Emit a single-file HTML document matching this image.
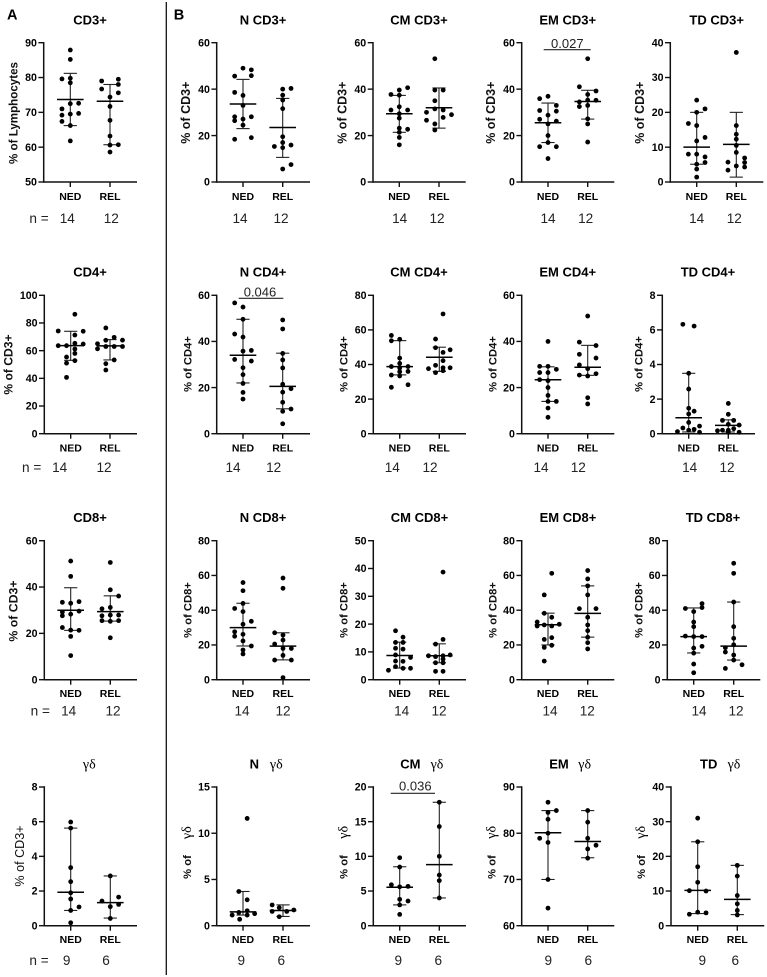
<!DOCTYPE html>
<html lang="en">
<head>
<meta charset="utf-8">
<title>T cell subsets: NED vs REL</title>
<style>
html,body{margin:0;padding:0;background:#fff;}
#figure{display:block;width:767px;height:977px;font-family:"Liberation Sans",sans-serif;}
</style>
</head>
<body>
<svg id="figure" xmlns="http://www.w3.org/2000/svg" width="767" height="977" viewBox="0 0 767 977">
<rect x="0" y="0" width="767" height="977" fill="#fff"/>
<line x1="166.3" y1="2" x2="166.3" y2="975" stroke="#111" stroke-width="1.3"/>
<text x="12.3" y="19.3" font-size="14.5" font-weight="bold" text-anchor="middle" fill="#000">A</text>
<text x="179" y="19.3" font-size="14.5" font-weight="bold" text-anchor="middle" fill="#000">B</text>
</svg>
<script>
const groups = ['NED', 'REL'];

// CD3+
const cd3Ticks = [50, 60, 70, 80, 90];
const cd3Ned = [87.9, 85.2, 79.6, 79.8, 78.5, 71, 72.6, 72.5, 69.2, 69.5, 69.7, 67.4, 66.2, 61.8];
const cd3NedSlots = [0, 0, -1, 0, 0, -1, 1, 0, -1, 0, 1, -1, 0, 0];
const cd3NedSummary = [66.2, 73.7, 81.2];
const cd3Rel = [79, 79.5, 78, 76.7, 75.6, 74.4, 71.7, 67.7, 63.2, 60.6, 60.7, 58.6];
const cd3RelSlots = [-1, 1, 1, -1, 1, 0, 0, 0, 0, 0, 1, 0];
const cd3RelSummary = [60.7, 73.2, 78];

// N CD3+
const nCd3Ticks = [0, 20, 40, 60];
const nCd3Ned = [49, 48.3, 45.6, 45.8, 38.6, 37.3, 33, 28.1, 28.1, 26.4, 27.1, 24.5, 18.4, 19.1];
const nCd3NedSlots = [0, 1, -1, 1, -1, 0, 0, -1, 1, -1, 0, 0, -1, 1];
const nCd3NedSummary = [23, 33.6, 44.2];
const nCd3Rel = [40, 40.3, 37.4, 35.3, 31.6, 19.5, 17, 15.3, 14.8, 15.9, 7.5, 5.6];
const nCd3RelSlots = [0, 1, 0, 0, 0, 0, 0, -1, 0, 1, 1, 0];
const nCd3RelSummary = [10.6, 23.5, 36];

// CM CD3+
const cmCd3Ticks = [0, 20, 40, 60];
const cmCd3Ned = [40.6, 39.6, 37.7, 37.4, 32.4, 31, 31, 29.4, 27.5, 23.2, 22.7, 21.4, 19.2, 16];
const cmCd3NedSlots = [1, 0, -1, 0, 0, -1, 1, 0, 0, 0, 1, 0, 0, 0];
const cmCd3NedSummary = [21.4, 29.4, 37.3];
const cmCd3Rel = [53.1, 39.6, 39.6, 35, 30, 31.5, 31, 29, 26.6, 27.8, 25, 22.4];
const cmCd3RelSlots = [-0.5, -0.5, 0.5, -0.5, -1.5, -0.5, 0.5, 1.5, -1.5, 0.5, -0.5, -0.5];
const cmCd3RelSummary = [23.2, 32, 40.5];

// EM CD3+
const emCd3Ticks = [0, 20, 40, 60];
const emCd3Ned = [36.9, 35.9, 33, 30.8, 30.5, 28.8, 27, 26.2, 25, 20, 17, 15.2, 15.2, 10.1];
const emCd3NedSlots = [0, -1, 1, -1, 1, 0, -1, 1, 0, 0, 0, -1, 1, 0];
const emCd3NedSummary = [17, 25.5, 34];
const emCd3Rel = [53.1, 41, 39.2, 37.7, 35.3, 35.2, 32.5, 33, 27.2, 25, 17.2, 34.5];
const emCd3RelSlots = [0, -1, 1, 0, 0, 1, -1, 0, 0, 0, 0, -1];
const emCd3RelSummary = [27.1, 34.7, 39.5];

// TD CD3+
const tdCd3Ticks = [0, 10, 20, 30, 40];
const tdCd3Ned = [23.5, 21, 20, 16.8, 16.2, 12.8, 11.8, 8, 8, 7.2, 5.6, 5.1, 3.7, 1.4];
const tdCd3NedSlots = [0, 1, 0, -1, 0, 1, 0, -1, 0, 1, 1, 0, 0, 0];
const tdCd3NedSummary = [5.1, 10, 20];
const tdCd3Rel = [37.2, 16.2, 13.7, 12.3, 10.5, 8.5, 6.9, 5.7, 5.6, 4.6, 4.3, 3.4];
const tdCd3RelSlots = [0, 0, 0, 0, 0, 0, 1, -1, 1, 0, 1, -1];
const tdCd3RelSummary = [1.4, 10.8, 20];

// CD4+
const cd4Ticks = [0, 20, 40, 60, 80, 100];
const cd4Ned = [86.3, 74.2, 74, 71.3, 63.6, 65.3, 64.8, 63.6, 61.2, 58, 55.4, 52.8, 51, 40.7];
const cd4NedSlots = [0.5, -1.5, 1.5, 0.5, -1.5, 0.5, 1.5, -0.5, 0.5, 0.5, -0.5, 0.5, -0.5, -0.5];
const cd4NedSummary = [53, 63.6, 74];
const cd4Rel = [76.4, 69.6, 67.5, 67.6, 65, 63, 63, 63, 61.3, 53.3, 50.6, 46];
const cd4RelSlots = [-0.5, 0.5, -0.5, 1.5, -1.5, 0.5, -0.5, 1.5, -1.5, 0.5, -0.5, -0.5];
const cd4RelSummary = [53.3, 63.5, 68];

// N CD4+
const nCd4Ticks = [0, 20, 40, 60];
const nCd4Ned = [56.7, 54.9, 49.6, 43.2, 41.9, 35.8, 36.1, 32.2, 31.5, 28.6, 25.6, 21.8, 17.9, 15];
const nCd4NedSlots = [-1, 0, 0, -1, 0, 0, 1, -1, 1, 0, 0, 0, 0, 0];
const nCd4NedSummary = [22, 34, 49.6];
const nCd4Rel = [49.3, 45.4, 34.8, 32, 28.5, 21.4, 19.5, 18, 13.6, 10.7, 9.7, 4.3];
const nCd4RelSlots = [0, 0, 0, 0, 0, 0, 1, 0, 0, 1, 0, 0];
const nCd4RelSummary = [10.8, 20.5, 34.9];

// CM CD4+
const cmCd4Ticks = [0, 20, 40, 60, 80];
const cmCd4Ned = [56.8, 54.6, 53.7, 43.7, 40.6, 38.8, 38.8, 38, 35.8, 33.9, 36, 33.4, 26.8, 28.3];
const cmCd4NedSlots = [-1, 0, -1, 0, 0, -1, 1, 0, 0, -1, 1, 0, -1, 1];
const cmCd4NedSummary = [34, 38.8, 53.8];
const cmCd4Rel = [69.2, 54.7, 49.7, 47, 48.5, 42.2, 37.6, 39.5, 38.1, 38.1, 35.3, 36.4];
const cmCd4RelSlots = [0.45, -0.45, -0.45, 0.45, 1.3, 0.45, -1.3, -0.45, 1.3, 0.45, -0.45, 0.45];
const cmCd4RelSummary = [36, 44.2, 50];

// EM CD4+
const emCd4Ticks = [0, 20, 40, 60];
const emCd4Ned = [40, 29.2, 29.2, 26.5, 27.9, 23.4, 23, 20, 16.6, 14, 14, 11.1, 7.1, 26.5];
const emCd4NedSlots = [0, -1, 0, -1, 1, -1, 0, 0, 0, 0, 1, 0, 0, 0];
const emCd4NedSummary = [14, 23.4, 29];
const emCd4Rel = [51, 39.7, 38.2, 34.4, 32.8, 29.8, 28.2, 25.4, 25, 26, 15.6, 12.9];
const emCd4RelSlots = [0, -1, 1, -1, 1, -1, 0, -1, 0, 1, 0, 0];
const emCd4RelSummary = [25.3, 28.8, 38.3];

// TD CD4+
const tdCd4Ticks = [0, 2, 4, 6, 8];
const tdCd4Ned = [6.32, 6.22, 3.49, 2.58, 1.47, 1.3, 1.14, 0.65, 0.44, 0.33, 0.25, 0.12, 0.2, 0.08];
const tdCd4NedSlots = [-0.7, 0.65, 0, 0, 0, 0.65, 0, 0, 1.3, -0.7, 0.65, -1.35, 0, 1.3];
const tdCd4NedSummary = [0.1, 0.92, 3.49];
const tdCd4Rel = [1.75, 1.12, 0.77, 0.77, 0.54, 0.5, 0.17, 0.2, 0.2, 0.29, 0.08, 0.08];
const tdCd4RelSlots = [0, 0, -0.7, 0.65, 0, 1.3, -1.3, -0.7, 0, 0.65, 1.3, 0];
const tdCd4RelSummary = [0.1, 0.48, 0.8];

// CD8+
const cd8Ticks = [0, 20, 40, 60];
const cd8Ned = [51.2, 44.6, 33.4, 33.7, 33, 29.2, 29.6, 28.3, 27.6, 22.5, 21.4, 21.3, 18.7, 10.4];
const cd8NedSlots = [0, 0, -1, 1, 0, -1, 1, 0, -1, -1, 0, 1, 0, 0];
const cd8NedSummary = [21.3, 30, 39.7];
const cd8Rel = [50.6, 38.8, 36.1, 31.2, 30.6, 27.9, 27.9, 27.6, 25.5, 25.2, 25.5, 18.1];
const cd8RelSlots = [0, 0, 1, 0, -1, 0, 1, -1, -1, 0, 1, 0];
const cd8RelSummary = [25.3, 29.4, 36.2];

// N CD8+
const nCd8Ticks = [0, 20, 40, 60, 80];
const nCd8Ned = [55.9, 51.2, 43.9, 41, 39.2, 33.6, 31.9, 27.6, 26.1, 25, 22.3, 19.4, 17.1, 14.8];
const nCd8NedSlots = [0, 0, 0, -1, 0, 1, 0, -1, 0, -1, 0, 1, 0, 0];
const nCd8NedSummary = [19.4, 30, 44];
const nCd8Rel = [58.5, 52.6, 27, 25.7, 20.5, 22.8, 18, 18, 14, 11.3, 11.3, 1.2];
const nCd8RelSlots = [0, 0, -1, 0, -1, 0, 0, 1, 0, -1, 1, 0];
const nCd8RelSummary = [11.4, 19.3, 27];

// CM CD8+
const cmCd8Ticks = [0, 10, 20, 30, 40, 50];
const cmCd8Ned = [17.6, 15.3, 13.4, 13.4, 11.3, 11, 8.9, 8, 6.7, 6.6, 4.7, 4.1, 4.1, 3.4];
const cmCd8NedSlots = [-0.5, 0.4, -0.5, 0.4, -0.5, 0.4, -0.5, 1.3, -0.5, 0.4, -0.5, 0.4, 1.3, -1.35];
const cmCd8NedSummary = [4.2, 8.7, 13.5];
const cmCd8Rel = [38.7, 14.5, 12.8, 8.6, 8.6, 8.9, 8.3, 7.4, 6.1, 6.1, 3, 3];
const cmCd8RelSlots = [0.45, 0.45, -0.45, -1.3, 0.45, 1.3, -0.45, 0.45, -0.45, 0.45, -0.45, 0.45];
const cmCd8RelSummary = [6.1, 8.6, 12.9];

// EM CD8+
const emCd8Ticks = [0, 20, 40, 60, 80];
const emCd8Ned = [61.2, 48.8, 38.2, 35.9, 33.2, 31.5, 30.9, 30.9, 31.9, 24.2, 23.2, 19.8, 18.6, 10.7];
const emCd8NedSlots = [0.45, -0.45, -0.45, 0.45, -1.3, -0.45, -1.3, 0.45, 1.35, 0.45, -0.45, 0.45, -0.45, -0.45];
const emCd8NedSummary = [20, 31.6, 38.3];
const emCd8Rel = [62.8, 58, 54, 48.8, 40.9, 40.9, 35.9, 31.5, 28.2, 24.4, 21.3, 17.7];
const emCd8RelSlots = [0, 0, 0, 0, -1, 1, 0, 0, 0, 0, 0, 0];
const emCd8RelSummary = [24.5, 38.2, 54];

// TD CD8+
const tdCd8Ticks = [0, 20, 40, 60, 80];
const tdCd8Ned = [43.8, 41.5, 41, 39.2, 33.2, 30.5, 25.1, 24.8, 24.8, 19.2, 18.2, 15.3, 9, 4];
const tdCd8NedSlots = [1, 1, -1, 0, 0, 0, -1, 0, 1, 1, 0, 0, 0, 0];
const tdCd8NedSummary = [15.4, 24.8, 41.3];
const tdCd8Rel = [67, 61.2, 44.7, 30.5, 23.8, 20.1, 18.4, 15.9, 14.2, 11.3, 8.6, 6.5];
const tdCd8RelSlots = [0, 0, 0, 0, 0, 0, -1, -1, 0, 0, 1, -1];
const tdCd8RelSummary = [11.3, 19.3, 44.7];

// gamma-delta
const gdTicks = [0, 2, 4, 6, 8];
const gdNed = [5.98, 5.63, 3.35, 2.54, 1.9, 1.54, 1.08, 0.88, 0.17];
const gdNedSlots = [0, 0, 0, 0, 0, 0, 1, 0, 0];
const gdNedSummary = [0.88, 1.93, 5.63];
const gdRel = [2.87, 1.65, 1.42, 1.23, 1.1, 0.42];
const gdRelSlots = [0, 1, -1, 1, 0, 0];
const gdRelSummary = [0.44, 1.33, 2.87];

// N gamma-delta
const nGdTicks = [0, 5, 10, 15];
const nGdNed = [11.6, 3.7, 2.8, 1.62, 1.44, 1.3, 1.15, 1.15, 0.69];
const nGdNedSlots = [0.5, -0.5, 0.5, 0.5, -0.5, 1.4, -1.3, 0.5, -0.4];
const nGdNedSummary = [1.15, 1.5, 3.7];
const nGdRel = [2.24, 1.95, 1.55, 1.55, 1.7, 0.97];
const nGdRelSlots = [-1.3, -0.45, -1.3, 0.45, 1.3, -0.45];
const nGdRelSummary = [1, 1.65, 2.25];

// CM gamma-delta
const cmGdTicks = [0, 5, 10, 15, 20];
const cmGdNed = [9.8, 8.46, 5.9, 5.67, 5.6, 3.8, 3.56, 3, 1.63];
const cmGdNedSlots = [0, 0, -1, 1, 0, 0, 1, 0, 0];
const cmGdNedSummary = [3, 5.55, 8.5];
const cmGdRel = [17.8, 14.3, 10, 7.3, 6.5, 4];
const cmGdRelSlots = [0, 0, 0, 0, 0, 0];
const cmGdRelSummary = [4, 8.8, 17.8];

// EM gamma-delta
const emGdTicks = [60, 70, 80, 90];
const emGdNed = [86.7, 84.9, 84.5, 83, 80, 78.9, 78, 70, 63.8];
const emGdNedSlots = [0, 1, 0, 0, 0, -1, 0, 0, 0];
const emGdNedSummary = [70, 80.1, 84.9];
const emGdRel = [84.9, 82.4, 78.9, 77.4, 76.6, 74.6];
const emGdRelSlots = [0, 0, 0, 1, 0, 0];
const emGdRelSummary = [74.7, 78.2, 84.9];

// TD gamma-delta
const tdGdTicks = [0, 10, 20, 30, 40];
const tdGdNed = [31, 24.2, 17, 12.5, 10.1, 10, 3.7, 3.9, 3.3];
const tdGdNedSlots = [0, 0, 0, 0, -1, 1, 1, 0, -1];
const tdGdNedSummary = [3.5, 10.2, 24.2];
const tdGdRel = [17.4, 14.3, 8.7, 6.3, 4.4, 3.1];
const tdGdRelSlots = [0, 0, 0, 0, 0, 0];
const tdGdRelSummary = [3.2, 7.6, 17.4];

// Vertical layout of each row of panels
const rowLayout = [
  {top: 42.7, bottom: 182, cat: 196, n: 218.3, title: 20},
  {top: 295.3, bottom: 433.7, cat: 447.7, n: 467.3, title: 272},
  {top: 540.7, bottom: 679.7, cat: 693.3, n: 710.7, title: 517.3},
  {top: 787, bottom: 925.7, cat: 939.3, n: 960, title: 764}
];

const panels = [
  {id:'cd3', row:0, title:'CD3+', titleX:90, axis:43.7, cx:[70.3,110], end:137, nx:[67.3,111.3], nEq:39, yTitle:'% of Lymphocytes', yx:13.3, yy:113, ys:11.6, ticks:cd3Ticks, ned:cd3Ned, nedSlots:cd3NedSlots, nedSum:cd3NedSummary, rel:cd3Rel, relSlots:cd3RelSlots, relSum:cd3RelSummary},
  {id:'n-cd3', row:0, title:'N CD3+', titleX:263, axis:216.7, cx:[243,282.7], end:310, nx:[240,281], yTitle:'% of CD3+', yx:186, yy:112.7, ys:12.5, ticks:nCd3Ticks, ned:nCd3Ned, nedSlots:nCd3NedSlots, nedSum:nCd3NedSummary, rel:nCd3Rel, relSlots:nCd3RelSlots, relSum:nCd3RelSummary},
  {id:'cm-cd3', row:0, title:'CM CD3+', titleX:419, axis:373, cx:[399.3,439], end:465.7, nx:[399.7,437], yTitle:'% of CD3+', yx:342.3, yy:112.7, ys:12.5, ticks:cmCd3Ticks, ned:cmCd3Ned, nedSlots:cmCd3NedSlots, nedSum:cmCd3NedSummary, rel:cmCd3Rel, relSlots:cmCd3RelSlots, relSum:cmCd3RelSummary},
  {id:'em-cd3', row:0, title:'EM CD3+', titleX:567.7, axis:521.7, cx:[548,587.7], end:614.3, nx:[548,585.7], yTitle:'% of CD3+', yx:491, yy:112.7, ys:12.5, ticks:emCd3Ticks, ned:emCd3Ned, nedSlots:emCd3NedSlots, nedSum:emCd3NedSummary, rel:emCd3Rel, relSlots:emCd3RelSlots, relSum:emCd3RelSummary, sig:{text:'0.027', x1:543.7, x2:590.7, y:49.7, tx:567.3, ty:43.3}},
  {id:'td-cd3', row:0, title:'TD CD3+', titleX:716.7, axis:670.3, cx:[696.7,736.3], end:763.3, nx:[696.7,734.3], yTitle:'% of CD3+', yx:640, yy:112.7, ys:12.5, ticks:tdCd3Ticks, ned:tdCd3Ned, nedSlots:tdCd3NedSlots, nedSum:tdCd3NedSummary, rel:tdCd3Rel, relSlots:tdCd3RelSlots, relSum:tdCd3RelSummary},

  {id:'cd4', row:1, title:'CD4+', titleX:90, axis:44.3, cx:[70.7,110], end:137, nx:[59.7,104], nEq:31.7, yTitle:'% of CD3+', yx:8.3, yy:364.5, ys:12.1, ticks:cd4Ticks, ned:cd4Ned, nedSlots:cd4NedSlots, nedSum:cd4NedSummary, rel:cd4Rel, relSlots:cd4RelSlots, relSum:cd4RelSummary},
  {id:'n-cd4', row:1, title:'N CD4+', titleX:263, axis:216.7, cx:[243,282.7], end:310, nx:[233,273.7], yTitle:'% of CD4+', yx:187.7, yy:364, ys:11.2, ticks:nCd4Ticks, ned:nCd4Ned, nedSlots:nCd4NedSlots, nedSum:nCd4NedSummary, rel:nCd4Rel, relSlots:nCd4RelSlots, relSum:nCd4RelSummary, sig:{text:'0.046', x1:238.7, x2:283.3, y:298.3, tx:260, ty:292}},
  {id:'cm-cd4', row:1, title:'CM CD4+', titleX:419, axis:373.3, cx:[399.7,439.3], end:466, nx:[392.3,430], yTitle:'% of CD4+', yx:343.3, yy:364, ys:11.2, ticks:cmCd4Ticks, ned:cmCd4Ned, nedSlots:cmCd4NedSlots, nedSum:cmCd4NedSummary, rel:cmCd4Rel, relSlots:cmCd4RelSlots, relSum:cmCd4RelSummary},
  {id:'em-cd4', row:1, title:'EM CD4+', titleX:567.7, axis:521.7, cx:[548,587.7], end:614.3, nx:[541,578.3], yTitle:'% of CD4+', yx:492.3, yy:364, ys:11.2, ticks:emCd4Ticks, ned:emCd4Ned, nedSlots:emCd4NedSlots, nedSum:emCd4NedSummary, rel:emCd4Rel, relSlots:emCd4RelSlots, relSum:emCd4RelSummary},
  {id:'td-cd4', row:1, title:'TD CD4+', titleX:708, axis:662.3, cx:[688.7,728.3], end:755, nx:[689.7,727], yTitle:'% of CD4+', yx:638.3, yy:364, ys:11.2, ticks:tdCd4Ticks, ned:tdCd4Ned, nedSlots:tdCd4NedSlots, nedSum:tdCd4NedSummary, rel:tdCd4Rel, relSlots:tdCd4RelSlots, relSum:tdCd4RelSummary},

  {id:'cd8', row:2, title:'CD8+', titleX:90, axis:44.3, cx:[70.7,110.3], end:137, nx:[68.7,113], nEq:40.3, yTitle:'% of CD3+', yx:13.3, yy:611, ys:12.3, ticks:cd8Ticks, ned:cd8Ned, nedSlots:cd8NedSlots, nedSum:cd8NedSummary, rel:cd8Rel, relSlots:cd8RelSlots, relSum:cd8RelSummary},
  {id:'n-cd8', row:2, title:'N CD8+', titleX:263, axis:216.7, cx:[243,283], end:310, nx:[242,283], yTitle:'% of CD8+', yx:187.7, yy:610, ys:11.2, ticks:nCd8Ticks, ned:nCd8Ned, nedSlots:nCd8NedSlots, nedSum:nCd8NedSummary, rel:nCd8Rel, relSlots:nCd8RelSlots, relSum:nCd8RelSummary},
  {id:'cm-cd8', row:2, title:'CM CD8+', titleX:419.5, axis:373.3, cx:[399.7,439.3], end:466, nx:[401.7,439], yTitle:'% of CD8+', yx:343.3, yy:610, ys:11.2, ticks:cmCd8Ticks, ned:cmCd8Ned, nedSlots:cmCd8NedSlots, nedSum:cmCd8NedSummary, rel:cmCd8Rel, relSlots:cmCd8RelSlots, relSum:cmCd8RelSummary},
  {id:'em-cd8', row:2, title:'EM CD8+', titleX:568, axis:521.7, cx:[548,587.7], end:614.3, nx:[550,587.3], yTitle:'% of CD8+', yx:492.3, yy:610, ys:11.2, ticks:emCd8Ticks, ned:emCd8Ned, nedSlots:emCd8NedSlots, nedSum:emCd8NedSummary, rel:emCd8Rel, relSlots:emCd8RelSlots, relSum:emCd8RelSummary},
  {id:'td-cd8', row:2, title:'TD CD8+', titleX:713, axis:667.3, cx:[693.7,733.7], end:760.3, nx:[699,736], yTitle:'% of CD8+', yx:638.3, yy:610, ys:11.2, ticks:tdCd8Ticks, ned:tdCd8Ned, nedSlots:tdCd8NedSlots, nedSum:tdCd8NedSummary, rel:tdCd8Rel, relSlots:tdCd8RelSlots, relSum:tdCd8RelSummary},

  {id:'gd', row:3, title:'', titleX:0, gdX:89.3, axis:44.3, cx:[70.7,110.3], end:137, nx:[66.7,106], nEq:39, yTitle:'% of CD3+', yx:20, yy:856, ys:12.6, yRegular:true, ticks:gdTicks, ned:gdNed, nedSlots:gdNedSlots, nedSum:gdNedSummary, rel:gdRel, relSlots:gdRelSlots, relSum:gdRelSummary},
  {id:'n-gd', row:3, title:'N', titleX:254.3, gdX:276.3, axis:216.7, cx:[243,283], end:310, nx:[241.3,281.3], yTitle:'% of', yx:187, yy:867, ys:11.2, yGd:832.7, ticks:nGdTicks, ned:nGdNed, nedSlots:nGdNedSlots, nedSum:nGdNedSummary, rel:nGdRel, relSlots:nGdRelSlots, relSum:nGdRelSummary},
  {id:'cm-gd', row:3, title:'CM', titleX:410.3, gdX:437, axis:373.3, cx:[399.7,439.3], end:466, nx:[398.3,438.3], yTitle:'% of', yx:343.3, yy:867, ys:11.2, yGd:832.3, ticks:cmGdTicks, ned:cmGdNed, nedSlots:cmGdNedSlots, nedSum:cmGdNedSummary, rel:cmGdRel, relSlots:cmGdRelSlots, relSum:cmGdRelSummary, sig:{text:'0.036', x1:390.7, x2:435, y:793.3, tx:415.3, ty:786}},
  {id:'em-gd', row:3, title:'EM', titleX:559, gdX:584.7, axis:521.7, cx:[548,587.7], end:614.3, nx:[548.3,588.3], yTitle:'% of', yx:491.7, yy:867, ys:11.2, yGd:832.3, ticks:emGdTicks, ned:emGdNed, nedSlots:emGdNedSlots, nedSum:emGdNedSummary, rel:emGdRel, relSlots:emGdRelSlots, relSum:emGdRelSummary},
  {id:'td-gd', row:3, title:'TD', titleX:708.7, gdX:734, axis:671, cx:[697.7,737.3], end:764.3, nx:[702.3,735.3], yTitle:'% of', yx:641, yy:867, ys:11.2, yGd:832.3, ticks:tdGdTicks, ned:tdGdNed, nedSlots:tdGdNedSlots, nedSum:tdGdNedSummary, rel:tdGdRel, relSlots:tdGdRelSlots, relSum:tdGdRelSummary}
];

const SVG_NS = 'http://www.w3.org/2000/svg';
const SLOT_WIDTH = 8.33;
const MEDIAN_HALF = 13.3;
const CAP_HALF = 6.6;
const figure = document.getElementById('figure');

function make(parent, tag, attrs, text) {
  const el = document.createElementNS(SVG_NS, tag);
  for (const key in attrs) el.setAttribute(key, attrs[key]);
  if (text !== undefined) el.textContent = text;
  parent.appendChild(el);
  return el;
}

function yAxisScale(panel) {
  const layout = rowLayout[panel.row];
  const min = panel.ticks[0];
  const max = panel.ticks[panel.ticks.length - 1];
  return function (value) {
    return layout.bottom - (value - min) / (max - min) * (layout.bottom - layout.top);
  };
}

function xAxisScale(panel, groupIndex, slot) {
  return panel.cx[groupIndex] + (slot || 0) * SLOT_WIDTH;
}

function drawSummary(g, panel, groupIndex, summary, y) {
  const cx = xAxisScale(panel, groupIndex, 0);
  const stem = make(g, 'line', {x1: cx, x2: cx, y1: y(summary[0]), y2: y(summary[2]), stroke: '#222', 'stroke-width': 1.1});
  
  
  const lowCap = make(g, 'line', {x1: cx - CAP_HALF, x2: cx + CAP_HALF, y1: y(summary[0]), y2: y(summary[0]), stroke: '#222', 'stroke-width': 1.1});
  
  
  const highCap = make(g, 'line', {x1: cx - CAP_HALF, x2: cx + CAP_HALF, y1: y(summary[2]), y2: y(summary[2]), stroke: '#222', 'stroke-width': 1.1});
  
  
  const median = make(g, 'line', {x1: cx - MEDIAN_HALF, x2: cx + MEDIAN_HALF, y1: y(summary[1]), y2: y(summary[1]), stroke: '#000', 'stroke-width': 1.5});
  
  
}

function drawPoints(g, panel, groupIndex, values, slots, y) {
  values.forEach(function (value, i) {
    const dot = make(g, 'circle', {cx: xAxisScale(panel, groupIndex, slots[i]), cy: y(value), r: 2.4, fill: '#000'});
    
    
  });
}

panels.forEach(function (panel) {
  const layout = rowLayout[panel.row];
  const y = yAxisScale(panel);
  const g = make(figure, 'g', {});
  
  

  if (panel.title) {
    const title = make(g, 'text', {x: panel.titleX, y: layout.title + 4.6, 'font-size': 13, 'font-weight': 'bold', 'text-anchor': 'middle', fill: '#000'}, panel.title);
    
    
  }
  if (panel.gdX) {
    const gdTitle = make(g, 'text', {x: panel.gdX, y: layout.title + 4.6, 'font-size': 14, 'text-anchor': 'middle', fill: '#000', 'font-family': '"Liberation Serif", serif'}, 'γδ');
    
    
  }

  const yAxis = make(g, 'line', {x1: panel.axis, x2: panel.axis, y1: layout.top - 0.7, y2: layout.bottom + 0.7, stroke: '#111', 'stroke-width': 1.5});
  
  
  const xAxis = make(g, 'line', {x1: panel.axis, x2: panel.end, y1: layout.bottom, y2: layout.bottom, stroke: '#111', 'stroke-width': 1.5});
  
  

  panel.ticks.forEach(function (tickValue) {
    const tick = make(g, 'line', {x1: panel.axis - 5.3, x2: panel.axis, y1: y(tickValue), y2: y(tickValue), stroke: '#111', 'stroke-width': 1.4});
    
    
    const label = make(g, 'text', {x: panel.axis - 6.8, y: y(tickValue) + 3.7, 'font-size': 10.6, 'font-weight': 'bold', 'text-anchor': 'end', fill: '#000'}, String(tickValue));
    
    
  });

  groups.forEach(function (groupName, i) {
    const cx = panel.cx[i];
    const tick = make(g, 'line', {x1: cx, x2: cx, y1: layout.bottom, y2: layout.bottom + 5, stroke: '#111', 'stroke-width': 1.4});
    
    
    const label = make(g, 'text', {x: cx, y: layout.cat + 3.8, 'font-size': 10.5, 'font-weight': 'bold', 'text-anchor': 'middle', fill: '#000'}, groupName);
    
    
  });

  const yTitle = make(g, 'text', {x: 0, y: 0, 'font-size': panel.ys, 'font-weight': panel.yRegular ? 'normal' : 'bold', 'text-anchor': 'middle', fill: '#111', transform: 'translate(' + (panel.yx + 4) + ',' + panel.yy + ') rotate(-90)'}, panel.yTitle);
  
  
  if (panel.yGd) {
    const yGd = make(g, 'text', {x: 0, y: 0, 'font-size': 14, 'text-anchor': 'middle', fill: '#000', 'font-family': '"Liberation Serif", serif', transform: 'translate(' + (panel.yx + 4) + ',' + panel.yGd + ') rotate(-90)'}, 'γδ');
    
    
  }

  drawSummary(g, panel, 0, panel.nedSum, y);
  drawSummary(g, panel, 1, panel.relSum, y);
  drawPoints(g, panel, 0, panel.ned, panel.nedSlots, y);
  drawPoints(g, panel, 1, panel.rel, panel.relSlots, y);

  if (panel.sig) {
    const bar = make(g, 'line', {x1: panel.sig.x1, x2: panel.sig.x2, y1: panel.sig.y, y2: panel.sig.y, stroke: '#222', 'stroke-width': 1.1});
    
    
    const pValue = make(g, 'text', {x: panel.sig.tx, y: panel.sig.ty + 4.6, 'font-size': 13, 'text-anchor': 'middle', fill: '#222'}, panel.sig.text);
    
    
  }

  const nNed = make(g, 'text', {x: panel.nx[0], y: layout.n + 4.9, 'font-size': 13.6, 'text-anchor': 'middle', fill: '#222'}, String(panel.ned.length));
  
  
  const nRel = make(g, 'text', {x: panel.nx[1], y: layout.n + 4.9, 'font-size': 13.6, 'text-anchor': 'middle', fill: '#222'}, String(panel.rel.length));
  
  
  if (panel.nEq) {
    const nEq = make(g, 'text', {x: panel.nEq, y: layout.n + 4.9, 'font-size': 13.6, 'text-anchor': 'middle', fill: '#222'}, 'n =');
    
    
  }
});
</script>
</body>
</html>
